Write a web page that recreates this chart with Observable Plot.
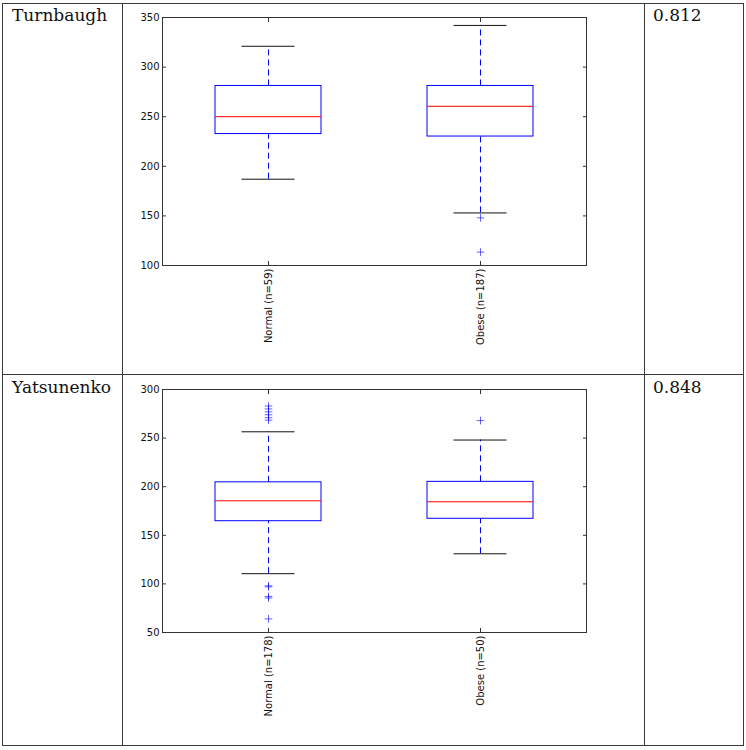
<!DOCTYPE html>
<html>
<head>
<meta charset="utf-8">
<script src="https://cdn.jsdelivr.net/npm/d3@7"></script>
<script src="https://cdn.jsdelivr.net/npm/@observablehq/plot@0.6"></script>
<style>
  html, body { margin: 0; padding: 0; background: #fff; }
  #page { position: relative; width: 746px; height: 750px; overflow: hidden; }
  .line { position: absolute; background: #3a3a3a; }
  .name, .pval { position: absolute; font-family: "DejaVu Serif", serif; font-size: 17px; color: #111; }
  .cell { position: absolute; }
</style>
</head>
<body>
<div id="page"></div>
<script>
// ---- data ----
const datasets = ["Turnbaugh", "Yatsunenko"];
const pValues = ["0.812", "0.848"];

const turnLabels = ["Normal (n=59)", "Obese (n=187)"];
const turnLow = [187, 153];
const turnQ1 = [232.5, 230];
const turnMedian = [250, 260.5];
const turnQ3 = [281, 281];
const turnHigh = [321, 342];
const turnOutNormal = [];
const turnOutObese = [148, 113.5];
const turnTicks = [100, 150, 200, 250, 300, 350];
const turnDomain = [100, 350];

const yatsLabels = ["Normal (n=178)", "Obese (n=50)"];
const yatsLow = [110.5, 131];
const yatsQ1 = [164.5, 167];
const yatsMedian = [185.5, 184.5];
const yatsQ3 = [204.5, 205];
const yatsHigh = [256.5, 248];
const yatsOutNormal = [283, 280, 277, 274, 271, 268.5, 98, 97, 87, 85.5, 64];
const yatsOutObese = [268];
const yatsTicks = [50, 100, 150, 200, 250, 300];
const yatsDomain = [50, 300];

// ---- helpers ----
const page = document.getElementById("page");
function addDiv(cls, style, text) {
  const d = document.createElement("div");
  d.className = cls;
  Object.assign(d.style, style);
  if (text != null) d.textContent = text;
  page.appendChild(d);
  return d;
}

function boxChart(labels, low, q1, med, q3, high, outA, outB, ticks, domain, mb) {
  const stats = labels.map((g, i) => ({g, low: low[i], q1: q1[i], med: med[i], q3: q3[i], high: high[i]}));
  const outs = [...outA.map(v => ({g: labels[0], v})), ...outB.map(v => ({g: labels[1], v}))];
  const blue = "#0000ff";
  return Plot.plot({
    width: 522,
    height: 371,
    marginLeft: 40,
    marginRight: 58,
    marginTop: 14,
    marginBottom: mb,
    style: {fontFamily: "DejaVu Sans, sans-serif", fontSize: "10px", color: "#111", background: "transparent"},
    x: {type: "band", domain: labels, paddingInner: 0.5, paddingOuter: 0.25, align: 0.5, label: null},
    y: {domain, ticks, label: null},
    marks: [
      // whiskers (dashed)
      Plot.ruleX(stats, {x: "g", y1: "q3", y2: "high", stroke: blue, strokeDasharray: "6,4", strokeWidth: 1}),
      Plot.ruleX(stats, {x: "g", y1: "low", y2: "q1", stroke: blue, strokeDasharray: "6,4", strokeWidth: 1}),
      // caps
      Plot.tickY(stats, {x: "g", y: "high", stroke: "#111", insetLeft: 26.5, insetRight: 26.5}),
      Plot.tickY(stats, {x: "g", y: "low", stroke: "#111", insetLeft: 26.5, insetRight: 26.5}),
      // box
      Plot.rect(stats, {x: "g", y1: "q1", y2: "q3", fill: "none", stroke: blue, strokeWidth: 1}),
      // median
      Plot.tickY(stats, {x: "g", y: "med", stroke: "#ff0000", strokeWidth: 1}),
      // outliers
      Plot.dot(outs, {x: "g", y: "v", symbol: "plus", r: 2.6, stroke: blue, strokeOpacity: 0.6, strokeWidth: 1}),
      // frame
      Plot.frame({stroke: "#333", strokeWidth: 1}),
      // axes with inward ticks
      Plot.axisY({anchor: "left", ticks, tickSize: -4, tickPadding: 7, stroke: "#333", fill: "#111", label: null}),
      Plot.axisY({anchor: "right", ticks, tickSize: -4, tickFormat: () => "", stroke: "#333", label: null}),
      Plot.axisX({anchor: "bottom", tickSize: -4, tickPadding: 7, tickRotate: -90, stroke: "#333", fill: "#111", label: null}),
      Plot.axisX({anchor: "top", tickSize: -4, tickFormat: () => "", stroke: "#333", label: null})
    ]
  });
}

// ---- table lines ----
addDiv("line", {left: "2px", top: "3px", width: "742px", height: "1px"});
addDiv("line", {left: "2px", top: "374px", width: "742px", height: "1px"});
addDiv("line", {left: "2px", top: "745px", width: "742px", height: "1px"});
addDiv("line", {left: "2px", top: "3px", width: "1px", height: "743px"});
addDiv("line", {left: "122px", top: "3px", width: "1px", height: "743px"});
addDiv("line", {left: "644px", top: "3px", width: "1px", height: "743px"});
addDiv("line", {left: "743px", top: "3px", width: "1px", height: "743px"});

// ---- names and values ----
addDiv("name", {left: "12px", top: "5px"}, datasets[0]);
addDiv("name", {left: "12px", top: "377px"}, datasets[1]);
addDiv("pval", {left: "653px", top: "5px"}, pValues[0]);
addDiv("pval", {left: "653px", top: "377px"}, pValues[1]);

// ---- charts ----
const c1 = addDiv("cell", {left: "122px", top: "3px"});
c1.appendChild(boxChart(turnLabels, turnLow, turnQ1, turnMedian, turnQ3, turnHigh, turnOutNormal, turnOutObese, turnTicks, turnDomain, 109));
const c2 = addDiv("cell", {left: "122px", top: "375px"});
c2.appendChild(boxChart(yatsLabels, yatsLow, yatsQ1, yatsMedian, yatsQ3, yatsHigh, yatsOutNormal, yatsOutObese, yatsTicks, yatsDomain, 114));
</script>
</body>
</html>
